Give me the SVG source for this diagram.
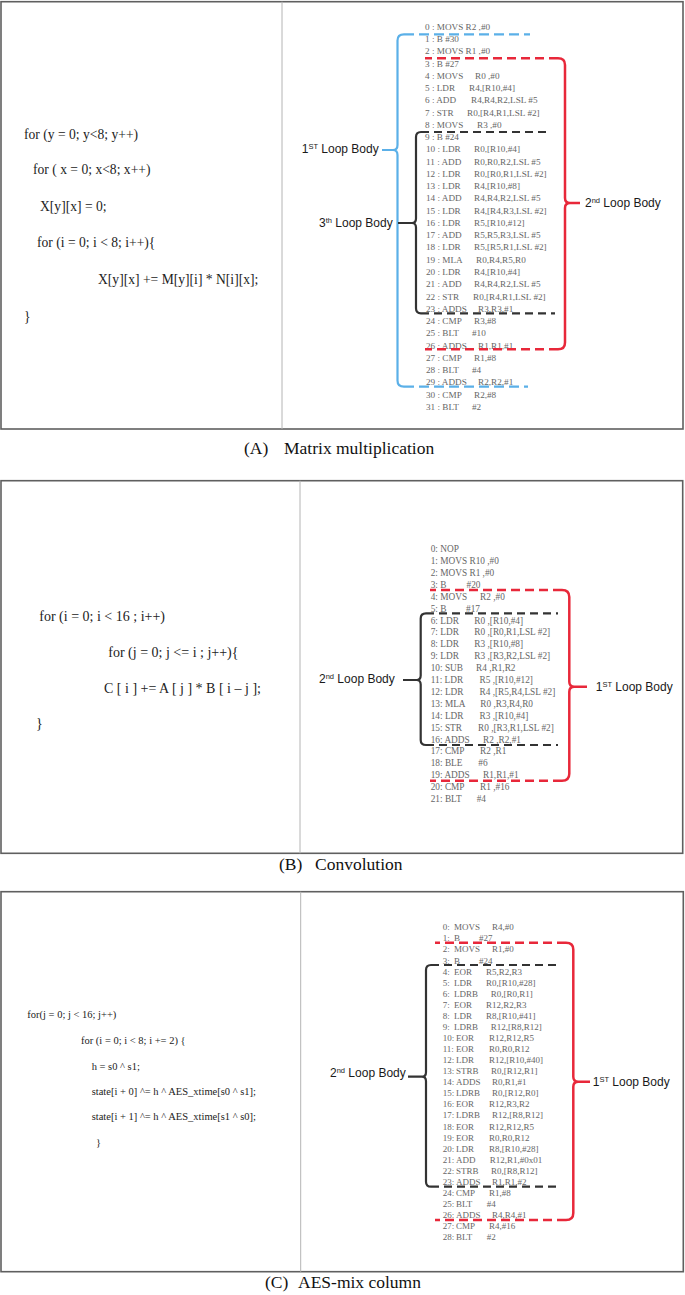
<svg xmlns="http://www.w3.org/2000/svg" width="685" height="1295" viewBox="0 0 685 1295">
<style>
.frame{fill:none;stroke:#5f5f5f;stroke-width:1.6}
.div{stroke:#b4b4b4;stroke-width:1}
.src{font-family:"Liberation Serif",serif;fill:#222}
.asm{font-family:"Liberation Serif",serif;fill:#666}
.a{font-size:9.2px}.b{font-size:9.3px}.c{font-size:9px}
.lbl{font-family:"Liberation Sans",sans-serif;font-size:12px;fill:#1a1a1a}
.sup{font-size:7.5px}
.cap{font-family:"Liberation Serif",serif;font-size:17.5px;fill:#111}
.br{fill:none;stroke-linecap:butt}
.red{stroke:#e8283a;stroke-width:2.5}
.blue{stroke:#5bb0e8;stroke-width:2.2}
.blk{stroke:#333;stroke-width:2.2}
.dr{stroke-dasharray:9 5}
.db{stroke-dasharray:10 5}
.dk{stroke-dasharray:8 5}
</style>
<rect width="685" height="1295" fill="#fff"/>

<g id="frames">
<rect class="frame" x="1" y="1.7" width="682" height="427.3"/>
<line class="div" x1="282" y1="1.7" x2="282" y2="429"/>
<rect class="frame" x="1" y="480.7" width="681.7" height="372.6"/>
<line class="div" x1="300" y1="480.7" x2="300" y2="853.3"/>
<rect class="frame" x="1" y="891.7" width="682.3" height="380"/>
<line class="div" x1="300.7" y1="891.7" x2="300.7" y2="1271.7"/>
</g>

<g id="captions" class="cap">
<text x="244" y="453.5">(A)</text><text x="284" y="453.5">Matrix multiplication</text>
<text x="279" y="870">(B)</text><text x="315" y="870">Convolution</text>
<text x="265" y="1288">(C)</text><text x="298" y="1288">AES-mix column</text>
</g>

<g id="src-a" class="src" font-size="13.6">
<text x="24" y="138.5">for (y = 0; y&lt;8; y++)</text>
<text x="33" y="174">for ( x = 0; x&lt;8; x++)</text>
<text x="40" y="211">X[y][x] = 0;</text>
<text x="37" y="247">for (i = 0; i &lt; 8; i++){</text>
<text x="98" y="284">X[y][x] += M[y][i] * N[i][x];</text>
<text x="24" y="321">}</text>
</g>

<g id="src-b" class="src" font-size="14">
<text x="39.3" y="620.5">for (i = 0;  i &lt; 16 ;  i++)</text>
<text x="108.3" y="656.5">for (j = 0;  j &lt;= i ;  j++){</text>
<text x="104" y="692.5">C [ i ] += A [ j ] * B [ i – j ];</text>
<text x="36" y="727.5">}</text>
</g>

<g id="src-c" class="src" font-size="10.5" fill="#333">
<text x="27.3" y="1017.5">for(j = 0; j &lt; 16; j++)</text>
<text x="81" y="1044.2">for (i = 0; i &lt; 8; i += 2) {</text>
<text x="91.7" y="1069.5">h = s0 ^ s1;</text>
<text x="91.7" y="1094.5">state[i + 0] ^= h ^ AES_xtime[s0 ^ s1];</text>
<text x="91.7" y="1120.2">state[i + 1] ^= h ^ AES_xtime[s1 ^ s0];</text>
<text x="96" y="1146.2">}</text>
</g>

<g id="asm-a" class="asm a">
<text x="425" y="29.8">0 : MOVS R2 ,#0</text>
<text x="425" y="42.06">1 : B #30</text>
<text x="425" y="54.32">2 : MOVS R1 ,#0</text>
<text x="425" y="66.58">3 : B #27</text>
<text x="425" y="78.84">4 : MOVS<tspan x="475">R0 ,#0</tspan></text>
<text x="425" y="91.1">5 : LDR<tspan x="469">R4,[R10,#4]</tspan></text>
<text x="425" y="103.36">6 : ADD<tspan x="471">R4,R4,R2,LSL #5</tspan></text>
<text x="425" y="115.62">7 : STR<tspan x="467">R0,[R4,R1,LSL #2]</tspan></text>
<text x="425" y="127.88">8 : MOVS<tspan x="477">R3 ,#0</tspan></text>
<text x="425" y="140.14">9 : B #24</text>
<text x="426" y="152.4">10 : LDR<tspan x="474">R0,[R10,#4]</tspan></text>
<text x="426" y="164.66">11 : ADD<tspan x="474">R0,R0,R2,LSL #5</tspan></text>
<text x="426" y="176.92">12 : LDR<tspan x="474">R0,[R0,R1,LSL #2]</tspan></text>
<text x="426" y="189.18">13 : LDR<tspan x="474">R4,[R10,#8]</tspan></text>
<text x="426" y="201.44">14 : ADD<tspan x="474">R4,R4,R2,LSL #5</tspan></text>
<text x="426" y="213.7">15 : LDR<tspan x="474">R4,[R4,R3,LSL #2]</tspan></text>
<text x="426" y="225.96">16 : LDR<tspan x="474">R5,[R10,#12]</tspan></text>
<text x="426" y="238.22">17 : ADD<tspan x="474">R5,R5,R3,LSL #5</tspan></text>
<text x="426" y="250.48">18 : LDR<tspan x="474">R5,[R5,R1,LSL #2]</tspan></text>
<text x="426" y="262.74">19 : MLA<tspan x="476">R0,R4,R5,R0</tspan></text>
<text x="426" y="275">20 : LDR<tspan x="474">R4,[R10,#4]</tspan></text>
<text x="426" y="287.26">21 : ADD<tspan x="474">R4,R4,R2,LSL #5</tspan></text>
<text x="426" y="299.52">22 : STR<tspan x="473">R0,[R4,R1,LSL #2]</tspan></text>
<text x="426" y="311.78">23 : ADDS<tspan x="478">R3,R3,#1</tspan></text>
<text x="426" y="324.04">24 : CMP<tspan x="474">R3,#8</tspan></text>
<text x="426" y="336.3">25 : BLT<tspan x="472">#10</tspan></text>
<text x="426" y="348.56">26 : ADDS<tspan x="478">R1,R1,#1</tspan></text>
<text x="426" y="360.82">27 : CMP<tspan x="474">R1,#8</tspan></text>
<text x="426" y="373.08">28 : BLT<tspan x="472">#4</tspan></text>
<text x="426" y="385.34">29 : ADDS<tspan x="478">R2,R2,#1</tspan></text>
<text x="426" y="397.6">30 : CMP<tspan x="474">R2,#8</tspan></text>
<text x="426" y="409.86">31 : BLT<tspan x="472">#2</tspan></text>
</g>

<g id="asm-b" class="asm b">
<text x="430.7" y="552.1">0: NOP</text>
<text x="430.7" y="564">1: MOVS R10 ,#0</text>
<text x="430.7" y="575.9">2: MOVS R1 ,#0</text>
<text x="430.7" y="587.8">3: B<tspan x="466.5">#20</tspan></text>
<text x="430.7" y="599.7">4: MOVS<tspan x="480">R2 ,#0</tspan></text>
<text x="430.7" y="611.6">5: B<tspan x="466">#17</tspan></text>
<text x="430.7" y="623.5">6: LDR<tspan x="474.3">R0 ,[R10,#4]</tspan></text>
<text x="430.7" y="635.4">7: LDR<tspan x="474.3">R0 ,[R0,R1,LSL #2]</tspan></text>
<text x="430.7" y="647.3">8: LDR<tspan x="474.3">R3 ,[R10,#8]</tspan></text>
<text x="430.7" y="659.2">9: LDR<tspan x="474.3">R3 ,[R3,R2,LSL #2]</tspan></text>
<text x="430.7" y="671.1">10: SUB<tspan x="476">R4 ,R1,R2</tspan></text>
<text x="430.7" y="683">11: LDR<tspan x="479.5">R5 ,[R10,#12]</tspan></text>
<text x="430.7" y="694.9">12: LDR<tspan x="479.5">R4 ,[R5,R4,LSL #2]</tspan></text>
<text x="430.7" y="706.8">13: MLA<tspan x="480.3">R0 ,R3,R4,R0</tspan></text>
<text x="430.7" y="718.7">14: LDR<tspan x="479.5">R3 ,[R10,#4]</tspan></text>
<text x="430.7" y="730.6">15: STR<tspan x="478">R0 ,[R3,R1,LSL #2]</tspan></text>
<text x="430.7" y="742.5">16: ADDS<tspan x="483">R2 ,R2,#1</tspan></text>
<text x="430.7" y="754.4">17: CMP<tspan x="480">R2 ,R1</tspan></text>
<text x="430.7" y="766.3">18: BLE<tspan x="478.3">#6</tspan></text>
<text x="430.7" y="778.2">19: ADDS<tspan x="483">R1,R1,#1</tspan></text>
<text x="430.7" y="790.1">20: CMP<tspan x="480">R1 ,#16</tspan></text>
<text x="430.7" y="802">21: BLT<tspan x="476.7">#4</tspan></text>
</g>

<g id="asm-c" class="asm c">
<text x="442.7" y="930.3">0:<tspan x="454">MOVS</tspan><tspan x="492">R4,#0</tspan></text>
<text x="442.7" y="941.37">1:<tspan x="454">B</tspan><tspan x="479">#27</tspan></text>
<text x="442.7" y="952.44">2:<tspan x="454">MOVS</tspan><tspan x="492">R1,#0</tspan></text>
<text x="442.7" y="963.51">3:<tspan x="454">B</tspan><tspan x="479">#24</tspan></text>
<text x="442.7" y="974.58">4:<tspan x="454">EOR</tspan><tspan x="486">R5,R2,R3</tspan></text>
<text x="442.7" y="985.65">5:<tspan x="454">LDR</tspan><tspan x="486">R0,[R10,#28]</tspan></text>
<text x="442.7" y="996.72">6:<tspan x="454">LDRB</tspan><tspan x="490.7">R0,[R0,R1]</tspan></text>
<text x="442.7" y="1007.79">7:<tspan x="454">EOR</tspan><tspan x="486">R12,R2,R3</tspan></text>
<text x="442.7" y="1018.86">8:<tspan x="454">LDR</tspan><tspan x="486">R8,[R10,#41]</tspan></text>
<text x="442.7" y="1029.93">9:<tspan x="454">LDRB</tspan><tspan x="490.7">R12,[R8,R12]</tspan></text>
<text x="442.7" y="1041">10:<tspan x="456">EOR</tspan><tspan x="489">R12,R12,R5</tspan></text>
<text x="442.7" y="1052.07">11:<tspan x="456">EOR</tspan><tspan x="489">R0,R0,R12</tspan></text>
<text x="442.7" y="1063.14">12:<tspan x="456">LDR</tspan><tspan x="489">R12,[R10,#40]</tspan></text>
<text x="442.7" y="1074.21">13:<tspan x="456">STRB</tspan><tspan x="491">R0,[R12,R1]</tspan></text>
<text x="442.7" y="1085.28">14:<tspan x="456">ADDS</tspan><tspan x="492">R0,R1,#1</tspan></text>
<text x="442.7" y="1096.35">15:<tspan x="456">LDRB</tspan><tspan x="492">R0,[R12,R0]</tspan></text>
<text x="442.7" y="1107.42">16:<tspan x="456">EOR</tspan><tspan x="489">R12,R3,R2</tspan></text>
<text x="442.7" y="1118.49">17:<tspan x="456">LDRB</tspan><tspan x="492">R12,[R8,R12]</tspan></text>
<text x="442.7" y="1129.56">18:<tspan x="456">EOR</tspan><tspan x="489">R12,R12,R5</tspan></text>
<text x="442.7" y="1140.63">19:<tspan x="456">EOR</tspan><tspan x="489">R0,R0,R12</tspan></text>
<text x="442.7" y="1151.7">20:<tspan x="456">LDR</tspan><tspan x="489">R8,[R10,#28]</tspan></text>
<text x="442.7" y="1162.77">21:<tspan x="456">ADD</tspan><tspan x="489.7">R12,R1,#0x01</tspan></text>
<text x="442.7" y="1173.84">22:<tspan x="456">STRB</tspan><tspan x="491">R0,[R8,R12]</tspan></text>
<text x="442.7" y="1184.91">23:<tspan x="456">ADDS</tspan><tspan x="492">R1,R1,#2</tspan></text>
<text x="442.7" y="1195.98">24:<tspan x="456">CMP</tspan><tspan x="489">R1,#8</tspan></text>
<text x="442.7" y="1207.05">25:<tspan x="456">BLT</tspan><tspan x="486.7">#4</tspan></text>
<text x="442.7" y="1218.12">26:<tspan x="456">ADDS</tspan><tspan x="492">R4,R4,#1</tspan></text>
<text x="442.7" y="1229.19">27:<tspan x="456">CMP</tspan><tspan x="489">R4,#16</tspan></text>
<text x="442.7" y="1240.26">28:<tspan x="456">BLT</tspan><tspan x="486.7">#2</tspan></text>
</g>

<g id="labels" class="lbl">
<text id="lbl-a1" x="301.7" y="153.3">1<tspan class="sup" dy="-4">ST</tspan><tspan dy="4"> Loop Body</tspan></text>
<text id="lbl-a2" x="585" y="207.3">2<tspan class="sup" dy="-4">nd</tspan><tspan dy="4"> Loop Body</tspan></text>
<text id="lbl-a3" x="319" y="227.3">3<tspan class="sup" dy="-4">th</tspan><tspan dy="4"> Loop Body</tspan></text>
<text id="lbl-b2" x="319" y="683.3">2<tspan class="sup" dy="-4">nd</tspan><tspan dy="4"> Loop Body</tspan></text>
<text id="lbl-b1" x="595.7" y="691">1<tspan class="sup" dy="-4">ST</tspan><tspan dy="4"> Loop Body</tspan></text>
<text id="lbl-c2" x="330" y="1076.6">2<tspan class="sup" dy="-4">nd</tspan><tspan dy="4"> Loop Body</tspan></text>
<text id="lbl-c1" x="592.7" y="1086">1<tspan class="sup" dy="-4">ST</tspan><tspan dy="4"> Loop Body</tspan></text>
</g>

<g id="connectors" class="br">
<!-- Panel A, 1st loop (blue) -->
<path class="br blue" d="M404 34.3 Q397.5 34.3 397.5 40.5 V145 Q397.5 150 393 150 Q397.5 150 397.5 155 V380.5 Q397.5 386.7 404 386.7 M382 150 H393"/>
<path class="br blue db" d="M404 34.3 H530 M404 386.7 H528"/>
<!-- Panel A, 2nd loop (red) -->
<path class="br red" d="M558 58.3 Q565 58.3 565 65 V198 Q565 203 570 203 Q565 203 565 208 V342.5 Q565 349.3 558 349.3 M570 203 H580"/>
<path class="br red dr" d="M558 58.3 H425 M558 349.3 H425"/>
<!-- Panel A, 3rd loop (black) -->
<path class="br blk" d="M421 132 Q416 132 416 137 V218.5 Q416 223 412 223 Q416 223 416 227.5 V308.3 Q416 313.3 421 313.3 M398 223 H412"/>
<path class="br blk dk" d="M421 132 H547 M421 313.3 H555"/>
<!-- Panel B, 1st loop (red) -->
<path class="br red" d="M562 590 Q569.3 590 569.3 597 V681.7 Q569.3 686.7 574.3 686.7 Q569.3 686.7 569.3 691.7 V773.7 Q569.3 780.7 562 780.7 M574.3 686.7 H587"/>
<path class="br red dr" d="M562 590 H430 M562 780.7 H430"/>
<!-- Panel B, 2nd loop (black) -->
<path class="br blk" d="M426 613.3 Q420.7 613.3 420.7 618.5 V675.5 Q420.7 680 416.5 680 Q420.7 680 420.7 684.5 V740 Q420.7 745 426 745 M403 680 H416.5"/>
<path class="br blk dk" d="M426 613.3 H558 M426 745 H558"/>
<!-- Panel C, 1st loop (red) -->
<path class="br red" d="M566 942.7 Q573.3 942.7 573.3 949.5 V1076.7 Q573.3 1081.7 578.3 1081.7 Q573.3 1081.7 573.3 1086.7 V1213 Q573.3 1220 566 1220 M578.3 1081.7 H590"/>
<path class="br red dr" d="M566 942.7 H435 M566 1220 H435"/>
<!-- Panel C, 2nd loop (black) -->
<path class="br blk" d="M431 965 Q426 965 426 970 V1072.2 Q426 1076.7 421.8 1076.7 Q426 1076.7 426 1081.2 V1181.7 Q426 1186.7 431 1186.7 M408 1076.7 H421.8"/>
<path class="br blk dk" d="M431 965 H560 M431 1186.7 H560"/>
</g>
</svg>
